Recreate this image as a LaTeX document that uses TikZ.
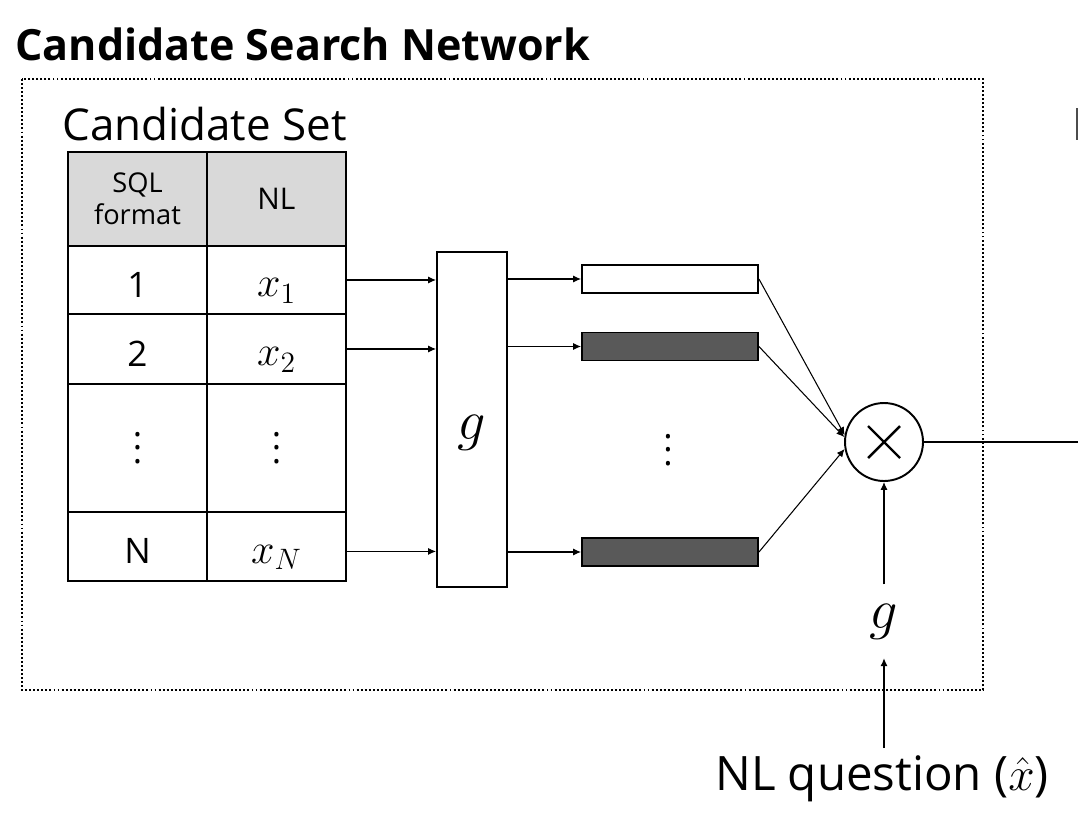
\RequirePackage{fix-cm}
\documentclass[tikz,border=0pt]{standalone}
\usepackage{fontspec}
\setmainfont{Open Sans}
\usepackage{tikz}
\usetikzlibrary{arrows,arrows.meta,shapes,positioning,calc}
\usepackage{xcolor}
\definecolor{cellgray}{RGB}{217,217,217}
\definecolor{bardark}{RGB}{89,89,89}
\newcommand{\tallvdots}{\vbox{\baselineskip=7.6pt \lineskiplimit=0pt \hbox{.}\hbox{.}\hbox{.}}}
\newcommand{\cellmath}[1]{\raisebox{-0.34cm}{$#1$}}
\newcommand{\cellnum}[1]{\raisebox{-0.35cm}{#1}}
\tikzstyle{arrow} = [semithick,->,>={Latex[length=4.5pt,width=4pt]}]
\tikzstyle{link} = [semithick]
\tikzstyle{frame} = [line width=1.1pt, dash pattern=on 1.1pt off 1.2pt]
\tikzstyle{cell} = [rectangle, draw, line width=1.1pt, outer sep=0pt, inner sep=0pt, minimum width=2.78cm, align=center, font=\fontsize{20}{22}\selectfont]
\tikzstyle{numcell} = [cell, text height=0pt, text depth=0pt]
\tikzstyle{mathcell} = [cell, text height=0pt, text depth=0pt, font=\fontsize{24}{24}\selectfont]
\tikzstyle{block} = [rectangle, draw, line width=1.1pt, inner sep=0pt]
\tikzstyle{bar} = [rectangle, draw, line width=1.1pt, inner sep=0pt, minimum width=3.52cm, minimum height=0.56cm]

\begin{document}
\begin{tikzpicture}[x=0.02cm, y=-0.02cm]
    \useasboundingbox (0,0) rectangle (1078,812);

    % Title and frame
    \node[anchor=base west, inner sep=0pt, font=\bfseries\fontsize{24.5}{24}\selectfont] (title) at (15,60) {Candidate Search Network};
    \draw[frame] (22,79) rectangle (983,690);
    \node[anchor=base west, inner sep=0pt, font=\fontsize{25}{25}\selectfont] (setname) at (62,140) {Candidate Set};

    % Candidate table
    \node[cell, fill=cellgray, minimum height=1.88cm, font=\fontsize{15.5}{18}\selectfont] (hsql) at (137.5,199) {SQL\\format};
    \node[cell, fill=cellgray, minimum height=1.88cm, font=\fontsize{17}{17}\selectfont, right=0pt of hsql] (hnl) {NL};
    \node[numcell, minimum height=1.36cm, below=0pt of hsql] (n1) {\cellnum{1}};
    \node[mathcell, minimum height=1.36cm, below=0pt of hnl] (x1) {\cellmath{x_1}};
    \node[numcell, minimum height=1.40cm, below=0pt of n1] (n2) {\cellnum{2}};
    \node[mathcell, minimum height=1.40cm, below=0pt of x1] (x2) {\cellmath{x_2}};
    \node[cell, minimum height=2.56cm, below=0pt of n2] (ndots) {\tallvdots};
    \node[cell, minimum height=2.56cm, below=0pt of x2] (xdots) {\tallvdots};
    \node[numcell, minimum height=1.38cm, below=0pt of ndots] (nN) {\cellnum{N}};
    \node[mathcell, minimum height=1.38cm, below=0pt of xdots] (xN) {\cellmath{x_N}};

    % Encoder and embeddings
    \node[block, minimum width=1.4cm, minimum height=6.7cm, text height=0pt, text depth=0pt, font=\fontsize{32}{32}\selectfont] (enc) at (472,419.5) {\raisebox{-0.4cm}{$g$}};
    \node[bar, fill=white] (e1) at (670,279) {};
    \node[bar, fill=bardark] (e2) at (670,346.5) {};
    \node[bar, fill=bardark] (eN) at (670,552) {};
    \node[font=\fontsize{20}{20}\selectfont] (edots) at (668,450) {\tallvdots};

    % Product with the question
    \node[circle, draw, line width=1.1pt, inner sep=0pt, minimum size=1.56cm,
        path picture={\draw[line width=1.4pt] ([shift={(-0.32cm,-0.32cm)}]path picture bounding box.center) -- ++(0.64cm,0.64cm)
                                           ([shift={(-0.32cm,0.32cm)}]path picture bounding box.center) -- ++(0.64cm,-0.64cm);}] (mul) at (884,442) {};
    \node[anchor=base, inner sep=0pt, outer ysep=11pt, font=\fontsize{32}{32}\selectfont] (gq) at (884,628) {$g$};
    \node[anchor=base, inner sep=0pt, outer ysep=4pt, font=\fontsize{27}{27}\selectfont] (nlq) at (882,790) {NL question ($\hat{x}$)};
    \coordinate (out) at (1078,442);
    \draw[line width=1pt, black!70] (1077,108) -- (1077,140);

    % Arrows
    \draw[arrow] (x1.east) -- (x1.east -| enc.west);
    \draw[arrow] (x2.east) -- (x2.east -| enc.west);
    \draw[arrow] ([yshift=-0.1cm]xN.east) -- ([yshift=-0.1cm]xN.east -| enc.west);
    \draw[arrow] (enc.east |- e1) -- (e1.west);
    \draw[arrow] (enc.east |- e2) -- (e2.west);
    \draw[arrow] (enc.east |- eN) -- (eN.west);
    \draw[arrow] (e1.east) -- (mul.170);
    \draw[arrow] (e2.east) -- (mul.173);
    \draw[arrow] (eN.east) -- (mul.190);
    \draw[link] (mul.east) -- (out);
    \draw[arrow] (gq.north) -- (mul.south);
    \draw[arrow] (nlq.north -| gq) -- (gq.south);
\end{tikzpicture}
\end{document}
